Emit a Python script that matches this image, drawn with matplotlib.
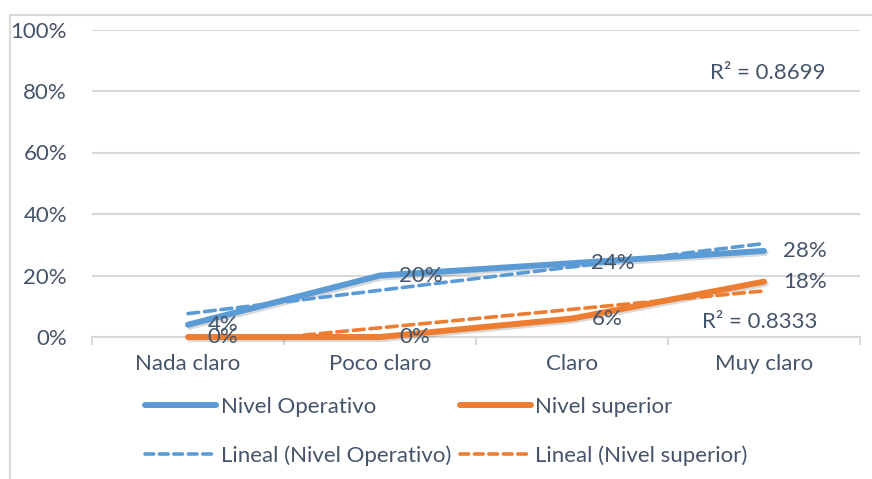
import numpy as np
import matplotlib
matplotlib.use("Agg")
import matplotlib.pyplot as plt
import matplotlib.patheffects as pe
from matplotlib.lines import Line2D
from matplotlib.ticker import FixedLocator, FuncFormatter

plt.rcParams['font.family'] = ['Lato', 'DejaVu Sans']

categories = ['Nada claro', 'Poco claro', 'Claro', 'Muy claro']
nivel_operativo = [4, 20, 24, 28]
nivel_superior = [0, 0, 6, 18]

BLUE = '#5B9BD5'
ORANGE = '#ED7D31'
TEXT = '#44546A'
GRID = '#D9D9D9'
FS = 16


def linear_trend(y):
    x = np.arange(1, len(y) + 1)
    slope, intercept = np.polyfit(x, y, 1)
    fit = slope * x + intercept
    y = np.asarray(y, dtype=float)
    r2 = 1 - ((y - fit) ** 2).sum() / ((y - y.mean()) ** 2).sum()
    return fit, r2


fig = plt.figure(figsize=(8.72, 4.79), dpi=100)
ax = fig.add_axes([92 / 872, 1 - 337 / 479, (860 - 92) / 872, (337 - 29.5) / 479])

x = np.arange(len(categories))
shadow = [pe.SimpleLineShadow(offset=(1.2, -1.5), alpha=0.15, shadow_color='k'), pe.Normal()]

ax.plot(x, nivel_operativo, color=BLUE, lw=4.3, solid_capstyle='round',
        solid_joinstyle='round', path_effects=shadow, zorder=3, clip_on=False)
ax.plot(x, nivel_superior, color=ORANGE, lw=4.3, solid_capstyle='round',
        solid_joinstyle='round', path_effects=shadow, zorder=3, clip_on=False)

fit_op, r2_op = linear_trend(nivel_operativo)
fit_sup, r2_sup = linear_trend(nivel_superior)
ax.plot(x, fit_op, color=BLUE, lw=2.6, ls=(0, (3, 1.6)), dash_capstyle='round', zorder=4)
ax.plot(x, fit_sup, color=ORANGE, lw=2.6, ls=(0, (3, 1.6)), dash_capstyle='round', zorder=4)

# data labels to the right of each point
for series in (nivel_operativo, nivel_superior):
    for xi, v in zip(x, series):
        ax.annotate(f'{v}%', (xi, v), xytext=(14, 0), textcoords='offset points',
                    ha='left', va='center', fontsize=FS, color=TEXT, zorder=5,
                    annotation_clip=False)

ax.text(3.02, 86, f'R² = {r2_op:.4f}', ha='center', va='center', fontsize=FS, color=TEXT)
ax.text(2.98, 5, f'R² = {r2_sup:.4f}', ha='center', va='center', fontsize=FS, color=TEXT)

ax.set_xlim(-0.5, 3.5)
ax.set_ylim(0, 100)
ax.set_yticks(np.arange(0, 101, 20))
ax.yaxis.set_major_formatter(FuncFormatter(lambda v, _: f'{v:.0f}%'))
ax.grid(axis='y', color=GRID, lw=1.5)
ax.set_axisbelow(True)

ax.set_xticks(x)
ax.set_xticklabels(categories)
ax.xaxis.set_minor_locator(FixedLocator(np.arange(-0.5, 3.6, 1)))
ax.tick_params(axis='x', which='major', length=0, pad=12, labelsize=FS, labelcolor=TEXT)
ax.tick_params(axis='x', which='minor', length=5.5, width=1.5, color=GRID)
ax.tick_params(axis='y', length=0, pad=18, labelsize=FS, labelcolor=TEXT)

for side in ('top', 'right', 'left'):
    ax.spines[side].set_visible(False)
ax.spines['bottom'].set_color(GRID)
ax.spines['bottom'].set_linewidth(1.5)

# legend: columns fill top-down, so series go first in each column
handles = [
    Line2D([], [], color=BLUE, lw=4.3, solid_capstyle='round'),
    Line2D([], [], color=BLUE, lw=2.6, ls=(0, (2.4, 1.6)), dash_capstyle='round'),
    Line2D([], [], color=ORANGE, lw=4.3, solid_capstyle='round'),
    Line2D([], [], color=ORANGE, lw=2.6, ls=(0, (2.4, 1.6)), dash_capstyle='round'),
]
labels = ['Nivel Operativo', 'Lineal (Nivel Operativo)',
          'Nivel superior', 'Lineal (Nivel superior)']
fig.legend(handles, labels, ncol=2, loc='center left',
           bbox_to_anchor=(145 / 872, 1 - 431.5 / 479), frameon=False,
           fontsize=FS, labelcolor=TEXT, handlelength=3.2, handletextpad=0.2,
           columnspacing=0.4, labelspacing=1.28, borderpad=0, borderaxespad=0)

# outer chart frame
fig.add_artist(Line2D([10 / 872, 1], [1 - 15 / 479] * 2, color=GRID, lw=1.5))
fig.add_artist(Line2D([10 / 872] * 2, [0, 1 - 15 / 479], color=GRID, lw=1.5))

fig.savefig('out.png', dpi=100)
